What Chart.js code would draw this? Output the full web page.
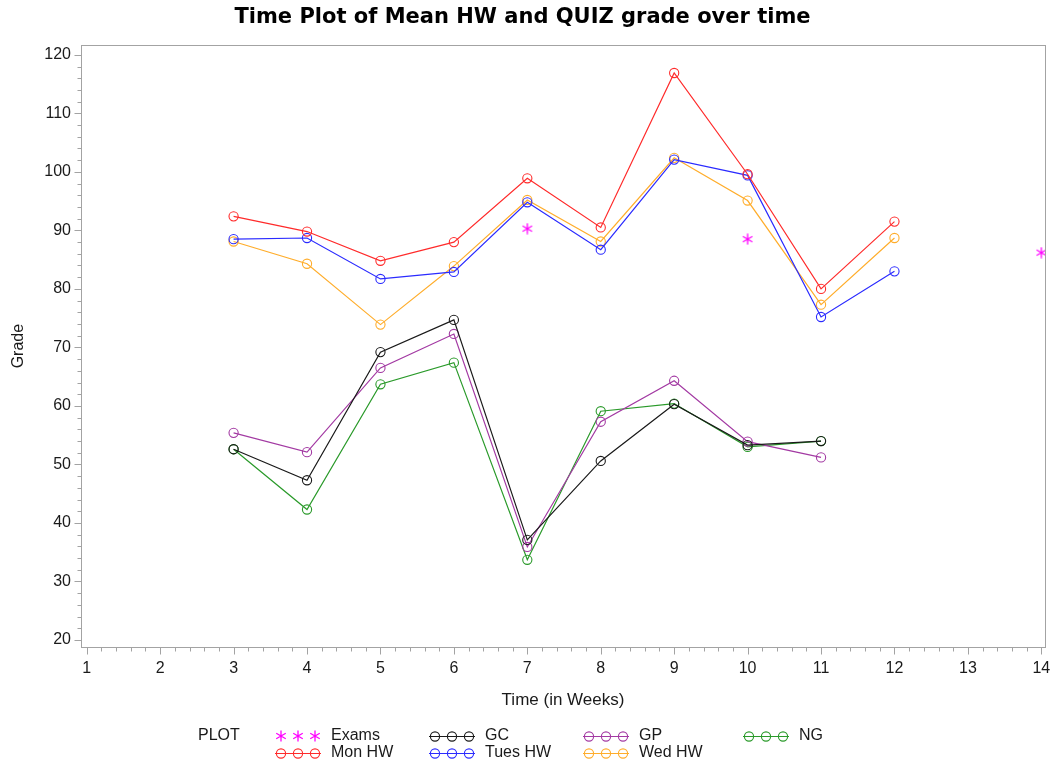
<!DOCTYPE html>
<html>
<head>
<meta charset="utf-8">
<title>Time Plot of Mean HW and QUIZ grade over time</title>
<script src="https://cdn.jsdelivr.net/npm/chart.js@4.4.1/dist/chart.umd.min.js"></script>
<style>
  html, body { margin: 0; padding: 0; background: #ffffff; }
  #wrap { width: 1052px; height: 764px; position: relative; }
</style>
</head>
<body>
<div id="wrap"><canvas id="chart" width="1052" height="764"></canvas></div>
<script>
// Weeks on which each group of measurements was taken
const hwWeeks   = [3, 4, 5, 6, 7, 8, 9, 10, 11, 12];
const quizWeeks = [3, 4, 5, 6, 7, 8, 9, 10, 11];
const examWeeks = [7, 10, 14];

// Mean homework grades by section
const monHW  = [92.4, 89.8, 84.8, 88.0, 98.9, 90.5, 116.9, 99.6, 80.0, 91.5];
const tuesHW = [88.5, 88.7, 81.7, 82.9, 94.8, 86.7, 102.1, 99.4, 75.2, 83.0];
const wedHW  = [88.1, 84.3, 73.9, 83.9, 95.2, 88.1, 102.4, 95.1, 77.3, 88.7];

// Mean quiz grades by group
const gcQuiz = [52.6, 47.3, 69.2, 74.7, 37.1, 50.6, 60.3, 53.3, 54.0];
const gpQuiz = [55.4, 52.1, 66.5, 72.3, 35.9, 57.3, 64.3, 53.9, 51.2];
const ngQuiz = [52.6, 42.3, 63.7, 67.4, 33.7, 59.1, 60.4, 53.0, 54.0];

// Mean exam grades
const exams = [90.3, 88.5, 86.2];

// Axis tick values
const xTickValues = [1, 2, 3, 4, 5, 6, 7, 8, 9, 10, 11, 12, 13, 14];
const yTickValues = [20, 30, 40, 50, 60, 70, 80, 90, 100, 110, 120];

const FONT = "'Liberation Sans', Arial, Helvetica, sans-serif";
const TITLE_FONT = "'DejaVu Sans', Verdana, sans-serif";
const FRAME = '#a3a3a3';

const toPoints = (weeks, vals) => weeks.map((w, i) => ({ x: w, y: vals[i] }));

// Asterisk marker used for exams
function makeAsterisk(color, size) {
  const c = document.createElement('canvas');
  c.width = size; c.height = size;
  const g = c.getContext('2d');
  const r = size / 2 - 0.5, cx = size / 2, cy = size / 2;
  g.strokeStyle = color;
  g.lineWidth = 1.3;
  g.beginPath();
  for (let k = 0; k < 3; k++) {
    const a = Math.PI / 2 + k * Math.PI / 3;
    g.moveTo(cx + r * Math.cos(a), cy + r * Math.sin(a));
    g.lineTo(cx - r * Math.cos(a), cy - r * Math.sin(a));
  }
  g.stroke();
  return c;
}
const asterisk = makeAsterisk('#ff00ff', 12);

function series(label, weeks, vals, color) {
  return {
    label,
    data: toPoints(weeks, vals),
    showLine: true,
    borderColor: color,
    backgroundColor: 'rgba(0,0,0,0)',
    borderWidth: 1.2,
    pointStyle: 'circle',
    pointRadius: 4.6,
    pointBorderWidth: 1.1,
    pointBorderColor: color,
    pointBackgroundColor: 'rgba(0,0,0,0)',
    tension: 0
  };
}

const datasets = [
  {
    label: 'Exams',
    data: toPoints(examWeeks, exams),
    showLine: false,
    pointStyle: asterisk,
    borderColor: '#ff00ff',
    backgroundColor: '#ff00ff'
  },
  series('GC', quizWeeks, gcQuiz, '#1a1a1a'),
  series('GP', quizWeeks, gpQuiz, '#a33aa3'),
  series('NG', quizWeeks, ngQuiz, '#2a9a2a'),
  series('Mon HW', hwWeeks, monHW, '#ff2b2b'),
  series('Tues HW', hwWeeks, tuesHW, '#2b2bff'),
  series('Wed HW', hwWeeks, wedHW, '#ffad2b')
];

// Frame around the plot area plus major / minor tick marks
const axisFrame = {
  id: 'axisFrame',
  beforeDatasetsDraw(chart) {
    const { ctx, chartArea: a, scales: { x, y } } = chart;
    ctx.save();
    ctx.strokeStyle = FRAME;
    ctx.lineWidth = 1;
    ctx.strokeRect(Math.round(a.left) + 0.5, Math.round(a.top) + 0.5,
                   Math.round(a.right - a.left), Math.round(a.bottom - a.top));
    ctx.beginPath();
    // x ticks: majors every week, minors every 0.2 week
    for (let i = 0; i <= 13 * 5; i++) {
      const v = 1 + i / 5;
      const px = Math.round(x.getPixelForValue(v)) + 0.5;
      const len = i % 5 === 0 ? 7 : 4;
      ctx.moveTo(px, Math.round(a.bottom) + 0.5);
      ctx.lineTo(px, Math.round(a.bottom) + 0.5 + len);
    }
    // y ticks: majors every 10, minors every 2
    for (let v = 20; v <= 120; v += 2) {
      const py = Math.round(y.getPixelForValue(v)) + 0.5;
      const len = v % 10 === 0 ? 7 : 4;
      ctx.moveTo(Math.round(a.left) + 0.5, py);
      ctx.lineTo(Math.round(a.left) + 0.5 - len, py);
    }
    ctx.stroke();
    ctx.restore();
  }
};

// Legend laid out in a fixed grid below the axis
const gridLegend = {
  id: 'gridLegend',
  afterDraw(chart) {
    const { ctx } = chart;
    const cols = [275, 429, 583, 743];
    const rows = [736, 753];
    const order = ['Exams', 'GC', 'GP', 'NG', 'Mon HW', 'Tues HW', 'Wed HW'];
    ctx.save();
    ctx.font = '16px ' + FONT;
    ctx.fillStyle = '#1a1a1a';
    ctx.textBaseline = 'middle';
    ctx.textAlign = 'left';
    ctx.fillText('PLOT', 198, rows[0]);
    order.forEach((name, i) => {
      const ds = chart.data.datasets.find(d => d.label === name);
      const x0 = cols[i % 4];
      const yc = rows[Math.floor(i / 4)];
      const marks = [x0 + 6, x0 + 23, x0 + 40];
      if (ds.showLine) {
        ctx.strokeStyle = ds.borderColor;
        ctx.lineWidth = 1.2;
        ctx.beginPath();
        ctx.moveTo(x0, yc + 0.5);
        ctx.lineTo(x0 + 46, yc + 0.5);
        ctx.stroke();
        ctx.lineWidth = 1.1;
        marks.forEach(mx => {
          ctx.beginPath();
          ctx.arc(mx, yc + 0.5, 4.6, 0, Math.PI * 2);
          ctx.stroke();
        });
      } else {
        marks.forEach(mx => ctx.drawImage(ds.pointStyle, mx - 6, yc - 6));
      }
      ctx.fillStyle = '#1a1a1a';
      ctx.fillText(name, x0 + 56, yc);
    });
    ctx.restore();
  }
};

new Chart(document.getElementById('chart'), {
  type: 'scatter',
  data: { datasets },
  plugins: [axisFrame, gridLegend],
  options: {
    responsive: false,
    animation: false,
    events: [],
    layout: { padding: { left: 0, right: 7, top: 0, bottom: 0 } },
    plugins: {
      legend: { display: false },
      tooltip: { enabled: false },
      title: {
        display: true,
        text: 'Time Plot of Mean HW and QUIZ grade over time',
        color: '#000000',
        font: { family: TITLE_FONT, size: 21, weight: 'bold' },
        padding: { top: 5, bottom: 15 }
      }
    },
    scales: {
      x: {
        type: 'linear',
        min: 0.922,
        max: 14.05,
        grid: { display: false, drawTicks: false },
        border: { display: false },
        afterBuildTicks: s => { s.ticks = xTickValues.map(v => ({ value: v })); },
        afterFit: s => { s.height = 117; s.paddingLeft = 0; s.paddingRight = 0; },
        ticks: {
          autoSkip: false, maxRotation: 0, padding: 12,
          color: '#1a1a1a', font: { family: FONT, size: 16 }
        },
        title: {
          display: true, text: 'Time (in Weeks)', color: '#1a1a1a',
          font: { family: FONT, size: 17 }, padding: { top: 0, bottom: 53 }
        }
      },
      y: {
        type: 'linear',
        min: 18.8,
        max: 121.65,
        grid: { display: false, drawTicks: false },
        border: { display: false },
        afterBuildTicks: s => { s.ticks = yTickValues.map(v => ({ value: v })); },
        afterFit: s => { s.width = 81; s.paddingTop = 0; s.paddingBottom = 0; },
        ticks: {
          autoSkip: false, padding: 10,
          color: '#1a1a1a', font: { family: FONT, size: 16 }
        },
        title: {
          display: true, text: 'Grade', color: '#1a1a1a',
          font: { family: FONT, size: 16 }, padding: { top: 9, bottom: 0 }
        }
      }
    }
  }
});
</script>
</body>
</html>
